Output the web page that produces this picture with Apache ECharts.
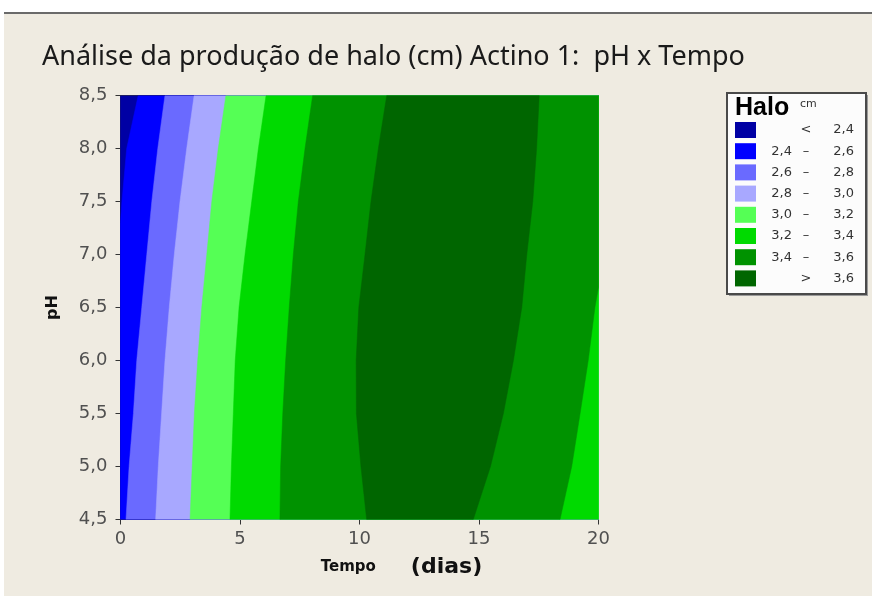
<!DOCTYPE html>
<html>
<head>
<meta charset="utf-8">
<script src="https://cdn.jsdelivr.net/npm/echarts@6/dist/echarts.min.js"></script>
<style>html,body{margin:0;padding:0;background:#fff}#c{width:872px;height:596px}</style>
</head>
<body>
<div id="c"></div>
<script>
// ---- data ----
const phLevels = [8.5, 8.0, 7.5, 7.0, 6.5, 6.0, 5.5, 5.0, 4.5];
// Tempo position of each contour at the pH levels above
const ph24 = [8.5, 8.0, 7.5, 7.3];
const t24 = [0.74, 0.26, 0.06, 0];
const t26 = [1.86, 1.56, 1.31, 1.10, 0.89, 0.68, 0.54, 0.36, 0.23];
const t28 = [3.08, 2.77, 2.49, 2.25, 2.04, 1.86, 1.72, 1.58, 1.47];
const t30 = [4.41, 4.09, 3.82, 3.61, 3.40, 3.23, 3.09, 3.00, 2.91];
const t32 = [6.09, 5.77, 5.49, 5.21, 4.96, 4.80, 4.72, 4.64, 4.58];
const t34L = [8.04, 7.72, 7.44, 7.23, 7.06, 6.91, 6.79, 6.70, 6.67];
const ph34R = [6.69, 6.5, 6.0, 5.5, 5.0, 4.5];
const t34R = [20, 19.85, 19.57, 19.23, 18.88, 18.39];
const t36L = [11.14, 10.79, 10.48, 10.23, 9.97, 9.86, 9.87, 10.06, 10.30];
const t36R = [17.52, 17.41, 17.25, 17.00, 16.79, 16.44, 16.02, 15.48, 14.76];

const legendLow = ['', '2,4', '2,6', '2,8', '3,0', '3,2', '3,4', ''];
const legendSep = ['<', '–', '–', '–', '–', '–', '–', '>'];
const legendHigh = ['2,4', '2,6', '2,8', '3,0', '3,2', '3,4', '3,6', '3,6'];
const bandColors = ['#0000a4', '#0000ff', '#6a6aff', '#a8a8ff', '#55ff55', '#00da00', '#009200', '#006600'];

const xMin = 0, xMax = 20, yMin = 4.5, yMax = 8.5;

// ---- build superlevel regions (painted lowest first) ----
const zip = (ts, ps) => ts.map((t, i) => [t, ps[i]]);
const rightEdge = [[xMax, yMin], [xMax, yMax]];
const regions = [
  [[xMin, yMax], [xMin, yMin], [xMax, yMin], [xMax, yMax]],
  zip(t24, ph24).concat([[xMin, yMin]], rightEdge),
  zip(t26, phLevels).concat(rightEdge),
  zip(t28, phLevels).concat(rightEdge),
  zip(t30, phLevels).concat(rightEdge),
  zip(t32, phLevels).concat(rightEdge),
  zip(t34L, phLevels).concat(zip(t34R, ph34R).reverse(), [[xMax, yMax]]),
  zip(t36L, phLevels).concat(zip(t36R, phLevels).reverse())
];

const fmt1 = v => v.toFixed(1).replace('.', ',');

// legend graphics
const lgX = 727, lgY = 93;
const legendFont = '13px "DejaVu Sans"';
const legendGraphics = [
  {type: 'rect', shape: {x: lgX + 2, y: lgY + 2, width: 139, height: 201}, style: {fill: '#9a9a9a'}, z: 10},
  {type: 'rect', shape: {x: lgX, y: lgY, width: 139, height: 201}, style: {fill: '#fcfcfc', stroke: '#4a4a4a', lineWidth: 2}, z: 11},
  {type: 'text', x: lgX + 8, y: lgY + 28, style: {text: 'Halo', font: 'bold 25px "Liberation Sans"', fill: '#000', verticalAlign: 'bottom'}, z: 12},
  {type: 'text', x: lgX + 73, y: lgY + 6, style: {text: 'cm', font: '11px "DejaVu Sans"', fill: '#333'}, z: 12}
];
bandColors.forEach((c, i) => {
  const cy = 130 + i * 21.2;
  legendGraphics.push({type: 'rect', shape: {x: 735, y: cy - 8, width: 21, height: 16}, style: {fill: c}, z: 12});
  legendGraphics.push({type: 'text', x: 792, y: cy, style: {text: legendLow[i], font: legendFont, fill: '#333', align: 'right', verticalAlign: 'middle'}, z: 12});
  legendGraphics.push({type: 'text', x: 806, y: cy, style: {text: legendSep[i], font: legendFont, fill: '#333', align: 'center', verticalAlign: 'middle'}, z: 12});
  legendGraphics.push({type: 'text', x: 854, y: cy, style: {text: legendHigh[i], font: legendFont, fill: '#333', align: 'right', verticalAlign: 'middle'}, z: 12});
});

const chart = echarts.init(document.getElementById('c'), null, {renderer: 'canvas'});
chart.setOption({
  animation: false,
  backgroundColor: '#fff',
  graphic: [
    {type: 'rect', shape: {x: 4, y: 13, width: 868, height: 583}, style: {fill: '#efebe1'}, z: -10, silent: true},
    {type: 'line', shape: {x1: 4, y1: 13, x2: 872, y2: 13}, style: {stroke: '#6a6a6a', lineWidth: 2}, z: -9}
  ].concat(legendGraphics),
  title: {
    text: 'Análise da produção de halo (cm) Actino 1:  pH x Tempo',
    left: 37, top: 39,
    textStyle: {fontFamily: 'Noto Sans', fontSize: 27, fontWeight: 'normal', color: '#1a1a1a'}
  },
  grid: {left: 120.5, right: 273.5, top: 95.5, bottom: 76.5, containLabel: false},
  xAxis: [{
    type: 'value', min: xMin, max: xMax, interval: 5,
    axisLine: {show: true, lineStyle: {color: '#333', width: 1}},
    axisTick: {show: true, length: 5, lineStyle: {color: '#333'}},
    splitLine: {show: false},
    axisLabel: {fontFamily: 'DejaVu Sans', fontSize: 18, color: '#505050', margin: 11},
    name: '{a|Tempo}{s|}{b|(dias)}', nameLocation: 'middle', nameGap: 37,
    nameTextStyle: {padding: [0, 0, 0, 84], rich: {
      a: {fontFamily: 'DejaVu Sans', fontWeight: 'bold', fontSize: 15, color: '#111'},
      s: {width: 35},
      b: {fontFamily: 'DejaVu Sans', fontWeight: 'bold', fontSize: 22, color: '#111'}
    }}
  }, {
    type: 'value', min: xMin, max: xMax, position: 'top',
    axisLine: {show: true, onZero: false, lineStyle: {color: '#333'}},
    axisTick: {show: false}, axisLabel: {show: false}, splitLine: {show: false}
  }],
  yAxis: [{
    type: 'value', min: yMin, max: yMax, interval: 0.5,
    axisLine: {show: true, lineStyle: {color: '#333'}},
    axisTick: {show: true, length: 5, lineStyle: {color: '#333'}},
    splitLine: {show: false},
    axisLabel: {fontFamily: 'DejaVu Sans', fontSize: 18, color: '#505050', margin: 13, formatter: fmt1},
    name: 'pH', nameLocation: 'middle', nameGap: 60, nameRotate: 90,
    nameTextStyle: {fontFamily: 'DejaVu Sans', fontWeight: 'bold', fontSize: 16, color: '#111'}
  }, {
    type: 'value', min: yMin, max: yMax, position: 'right',
    axisLine: {show: true, onZero: false, lineStyle: {color: '#333'}},
    axisTick: {show: false}, axisLabel: {show: false}, splitLine: {show: false}
  }],
  series: [{
    type: 'custom',
    coordinateSystem: 'cartesian2d',
    xAxisIndex: 0, yAxisIndex: 0,
    clip: true,
    data: regions.map((r, i) => [i]),
    renderItem: function (params, api) {
      const i = api.value(0);
      const pts = regions[i].map(p => api.coord(p));
      return {type: 'polygon', shape: {points: pts}, style: {fill: bandColors[i], stroke: bandColors[i], lineWidth: 0.5}};
    }
  }]
});
</script>
</body>
</html>
